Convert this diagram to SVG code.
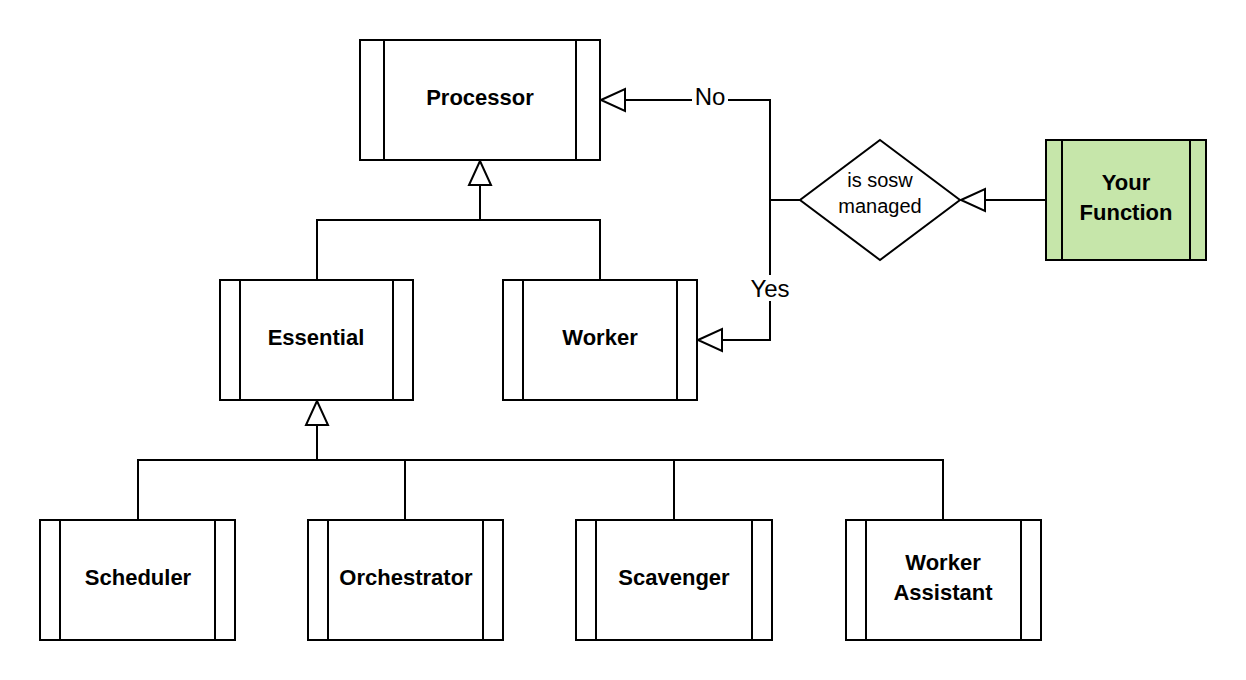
<svg xmlns="http://www.w3.org/2000/svg" width="1246" height="680" viewBox="0 0 1246 680">
<style>
.b{fill:#fff;stroke:#000;stroke-width:2}
.l{fill:none;stroke:#000;stroke-width:2}
.t{font-family:"Liberation Sans",Arial,sans-serif;font-weight:bold;font-size:22px;text-anchor:middle}
.n{font-family:"Liberation Sans",Arial,sans-serif;font-size:20px;text-anchor:middle}
.a{fill:#fff;stroke:#000;stroke-width:2}
</style>
<rect width="1246" height="680" fill="#fff"/>
<g id="connectors">
<path class="l" d="M480 185V220M317 280V220H600V280"/>
<polygon class="a" points="480,161 469,185 491,185"/>
<path class="l" d="M317 425V460M138 520V460H943V520M405 460V520M674 460V520"/>
<polygon class="a" points="317,401 306,425 328,425"/>
<path class="l" d="M985 200H1046"/>
<polygon class="a" points="961,200 985,189 985,211"/>
<path class="l" d="M800 200H770V100H625"/>
<polygon class="a" points="601,100 625,89 625,111"/>
<path class="l" d="M770 200V340H722"/>
<polygon class="a" points="698,340 722,329 722,351"/>
<rect x="692" y="84" width="36" height="26" fill="#fff"/>
<text class="n" x="710" y="105" font-size="24" style="font-size:24px">No</text>
<rect x="748" y="275" width="44" height="26" fill="#fff"/>
<text class="n" x="770" y="297" style="font-size:24px">Yes</text>
</g>
<g id="processor"><rect class="b" x="360" y="40" width="240" height="120"/><path class="l" d="M384 40V160M576 40V160"/><text class="t" x="480" y="105">Processor</text></g>
<g id="essential"><rect class="b" x="220" y="280" width="193" height="120"/><path class="l" d="M240 280V400M393 280V400"/><text class="t" x="316" y="345">Essential</text></g>
<g id="worker"><rect class="b" x="503" y="280" width="194" height="120"/><path class="l" d="M523 280V400M677 280V400"/><text class="t" x="600" y="345">Worker</text></g>
<g id="scheduler"><rect class="b" x="40" y="520" width="195" height="120"/><path class="l" d="M60 520V640M215 520V640"/><text class="t" x="138" y="585">Scheduler</text></g>
<g id="orchestrator"><rect class="b" x="308" y="520" width="195" height="120"/><path class="l" d="M328 520V640M483 520V640"/><text class="t" x="406" y="585">Orchestrator</text></g>
<g id="scavenger"><rect class="b" x="576" y="520" width="196" height="120"/><path class="l" d="M596 520V640M752 520V640"/><text class="t" x="674" y="585">Scavenger</text></g>
<g id="worker-assistant"><rect class="b" x="846" y="520" width="195" height="120"/><path class="l" d="M866 520V640M1021 520V640"/><text class="t" x="943" y="570">Worker</text><text class="t" x="943" y="600">Assistant</text></g>
<g id="decision"><polygon class="b" points="880,140 960,200 880,260 800,200"/><text class="n" x="880" y="187">is sosw</text><text class="n" x="880" y="213">managed</text></g>
<g id="your-function"><rect class="b" x="1046" y="140" width="160" height="120" style="fill:#c6e6aa"/><path class="l" d="M1062 140V260M1190 140V260"/><text class="t" x="1126" y="190">Your</text><text class="t" x="1126" y="220">Function</text></g>
</svg>
